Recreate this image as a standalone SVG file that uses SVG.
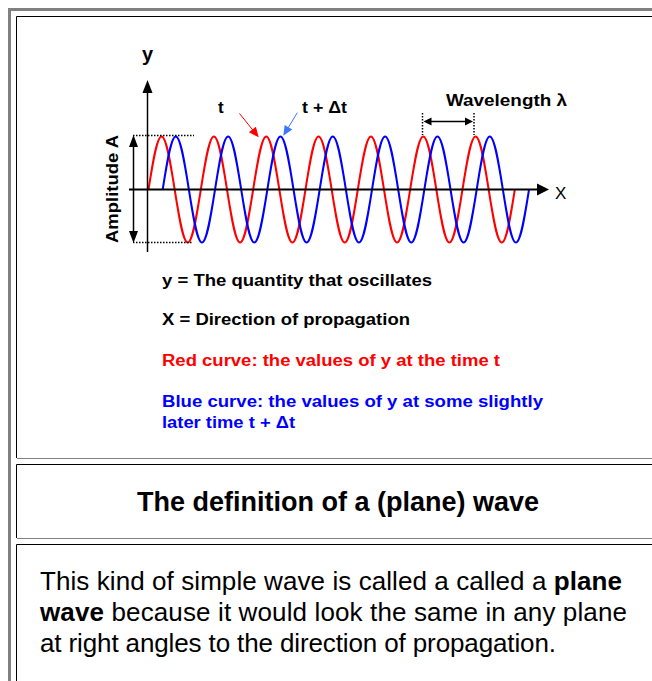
<svg xmlns="http://www.w3.org/2000/svg" width="652" height="681" viewBox="0 0 652 681">
<style>
text{font-family:"Liberation Sans",Arial,Helvetica,sans-serif;fill:#000}
.b{font-weight:bold}
.wave{fill:none;stroke-width:2;stroke-linejoin:round}
.dot{stroke:#000;stroke-width:1.5;stroke-dasharray:1.5 1.5;fill:none}
.ln{stroke:#000;fill:none}
.lg{font-size:16px;font-weight:bold}
.para{font-size:26px}
</style>
<rect width="652" height="681" fill="#fff"/>
<g id="frame">
<rect x="8" y="8" width="644" height="3" fill="#808080"/>
<rect x="8" y="8" width="3" height="673" fill="#808080"/>
<path d="M16.5,458 V16.5 H652" stroke="#000" fill="none"/>
<path d="M17,458.5 H652" stroke="#808080"/>
<path d="M16.5,538 V464.5 H652" stroke="#000" fill="none"/>
<path d="M17,538.5 H652" stroke="#808080"/>
<path d="M16.5,681 V544.5 H652" stroke="#000" fill="none"/>
</g>
<g id="curves">
<path id="red-curve" class="wave" stroke="#ff0000" d="M148.5,189.5 c4.267,-27.15 8.348,-53 13.083,-53 s8.816,25.85 13.083,53 s8.348,53 13.083,53 s8.816,-25.85 13.083,-53 s8.348,-53 13.083,-53 s8.816,25.85 13.083,53 s8.348,53 13.083,53 s8.816,-25.85 13.083,-53 s8.348,-53 13.083,-53 s8.816,25.85 13.083,53 s8.348,53 13.083,53 s8.816,-25.85 13.083,-53 s8.348,-53 13.083,-53 s8.816,25.85 13.083,53 s8.348,53 13.083,53 s8.816,-25.85 13.083,-53 s8.348,-53 13.083,-53 s8.816,25.85 13.083,53 s8.348,53 13.083,53 s8.816,-25.85 13.083,-53 s8.348,-53 13.083,-53 s8.816,25.85 13.083,53 s8.348,53 13.083,53 s8.816,-25.85 13.083,-53 s8.348,-53 13.083,-53 s8.816,25.85 13.083,53 s8.348,53 13.083,53 s8.816,-25.85 13.083,-53"/>
<path id="blue-curve" class="wave" stroke="#0000ff" d="M162.7,189.5 c4.267,-27.15 8.348,-53 13.083,-53 s8.816,25.85 13.083,53 s8.348,53 13.083,53 s8.816,-25.85 13.083,-53 s8.348,-53 13.083,-53 s8.816,25.85 13.083,53 s8.348,53 13.083,53 s8.816,-25.85 13.083,-53 s8.348,-53 13.083,-53 s8.816,25.85 13.083,53 s8.348,53 13.083,53 s8.816,-25.85 13.083,-53 s8.348,-53 13.083,-53 s8.816,25.85 13.083,53 s8.348,53 13.083,53 s8.816,-25.85 13.083,-53 s8.348,-53 13.083,-53 s8.816,25.85 13.083,53 s8.348,53 13.083,53 s8.816,-25.85 13.083,-53 s8.348,-53 13.083,-53 s8.816,25.85 13.083,53 s8.348,53 13.083,53 s8.816,-25.85 13.083,-53 s8.348,-53 13.083,-53 s8.816,25.85 13.083,53 s8.348,53 13.083,53 s8.816,-25.85 13.083,-53"/>
</g>
<g id="axes">
<path class="ln" stroke-width="1.5" d="M147.5,92 V252"/>
<polygon points="147.5,80 142.5,93 152.5,93" fill="#000"/>
<path class="ln" stroke-width="2" d="M129,189.5 H538"/>
<polygon points="549,189.5 537,183.5 537,195.5" fill="#000"/>
<text x="147.5" y="61" class="b" font-size="20" text-anchor="middle">y</text>
<text x="555" y="199" font-size="17">X</text>
</g>
<g id="amplitude">
<path class="dot" d="M133,135.5 H194"/>
<path class="dot" d="M133,242.5 H192"/>
<path class="ln" stroke-width="1.5" d="M133.5,145 V233"/>
<polygon points="133.5,135 129,147 138,147" fill="#000"/>
<polygon points="133.5,243 129,231 138,231" fill="#000"/>
<text x="118" y="243" class="b" font-size="17" textLength="108" lengthAdjust="spacingAndGlyphs" transform="rotate(-90 118 243)">Amplitude A</text>
</g>
<g id="wavelength">
<path class="dot" d="M422.5,113 V135"/>
<path class="dot" d="M474,113 V135"/>
<path class="ln" stroke-width="1.5" d="M430,121.5 H466"/>
<polygon points="423.5,121.5 431.5,117.5 431.5,125.5" fill="#000"/>
<polygon points="473,121.5 465,117.5 465,125.5" fill="#000"/>
<text x="446" y="106" class="b" font-size="17" textLength="121" lengthAdjust="spacingAndGlyphs">Wavelength λ</text>
</g>
<g id="time-labels">
<text x="218" y="113" class="b" font-size="17">t</text>
<path stroke="#ff0000" stroke-width="1" fill="none" d="M239.5,113.5 L253,130.3"/>
<polygon fill="#ff0000" points="258.7,137.3 248.9,132.3 255.9,126.7"/>
<text x="302" y="113" class="b" font-size="16" textLength="45" lengthAdjust="spacingAndGlyphs">t + Δt</text>
<path stroke="#3c78ff" stroke-width="1" fill="none" d="M297.3,112.7 L288,128"/>
<polygon fill="#3c78ff" points="283.3,135.7 292.3,129.5 284.6,124.9"/>
</g>
<g id="legend">
<text x="162" y="286" class="lg" textLength="270" lengthAdjust="spacingAndGlyphs">y = The quantity that oscillates</text>
<text x="162" y="325" class="lg" textLength="248" lengthAdjust="spacingAndGlyphs">X = Direction of propagation</text>
<text x="162" y="366" class="lg" style="fill:#ff0000" textLength="338" lengthAdjust="spacingAndGlyphs">Red curve: the values of y at the time t</text>
<text x="162" y="407" class="lg" style="fill:#0000ff" textLength="381" lengthAdjust="spacingAndGlyphs">Blue curve: the values of y at some slightly</text>
<text x="162" y="428" class="lg" style="fill:#0000ff" textLength="133" lengthAdjust="spacingAndGlyphs">later time t + Δt</text>
</g>
<g id="title-cell">
<text x="137" y="511" class="b" font-size="27">The definition of a (plane) wave</text>
</g>
<g id="paragraph-cell">
<text x="40" y="590" class="para" textLength="582">This kind of simple wave is called a called a <tspan class="b">plane</tspan></text>
<text x="40" y="621" class="para" textLength="587"><tspan class="b">wave</tspan> because it would look the same in any plane</text>
<text x="40" y="652" class="para" textLength="516">at right angles to the direction of propagation.</text>
</g>
</svg>
